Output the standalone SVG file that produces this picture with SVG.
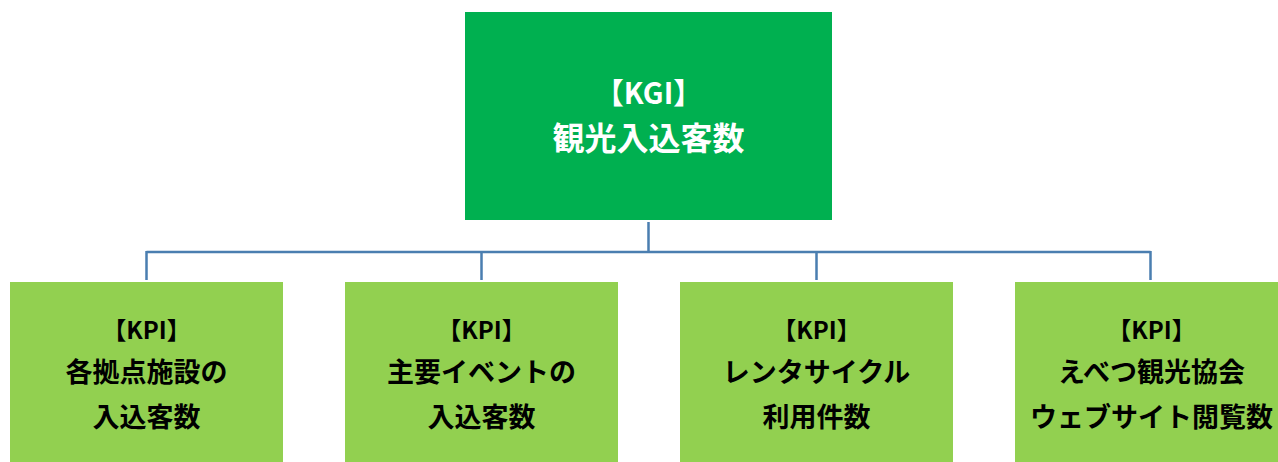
<svg xmlns="http://www.w3.org/2000/svg" width="1278" height="462" viewBox="0 0 1278 462">
<style>
.kgi{fill:#00B050}
.kpi{fill:#92D050}
.conn{stroke:#4A7EB0;stroke-width:2.5;fill:none}
text{font-family:"Noto Sans CJK JP","Noto Sans",sans-serif;font-weight:bold;text-anchor:middle;dominant-baseline:central}
.tw{fill:#FFFFFF}
.tb{fill:#000000}
.h1{font-size:29px}
.h2{font-size:32px}
.s1{font-size:24px}
.s2{font-size:27px}
</style>
<rect width="1278" height="462" fill="#FFFFFF"/>
<g id="connectors">
<path class="conn" d="M648.5 222 V252 M146.5 252 H1150.5 M146.5 251 V280 M481.5 251 V280 M816.5 251 V280 M1150.5 251 V280"/>
</g>
<g id="kgi">
<rect class="kgi" x="465" y="12" width="367" height="208"/>
<text class="tw h1" x="648.5" y="91">【KGI】</text>
<text class="tw h2" x="648.5" y="136">観光入込客数</text>
</g>
<g id="kpi1">
<rect class="kpi" x="10" y="282" width="273" height="182"/>
<text class="tb s1" x="146.5" y="328">【KPI】</text>
<text class="tb s2" x="146.5" y="370">各拠点施設の</text>
<text class="tb s2" x="146.5" y="415">入込客数</text>
</g>
<g id="kpi2">
<rect class="kpi" x="345" y="282" width="273" height="182"/>
<text class="tb s1" x="481.5" y="328">【KPI】</text>
<text class="tb s2" x="481.5" y="370">主要イベントの</text>
<text class="tb s2" x="481.5" y="415">入込客数</text>
</g>
<g id="kpi3">
<rect class="kpi" x="680" y="282" width="273" height="182"/>
<text class="tb s1" x="816.5" y="328">【KPI】</text>
<text class="tb s2" x="816.5" y="370">レンタサイクル</text>
<text class="tb s2" x="816.5" y="415">利用件数</text>
</g>
<g id="kpi4">
<rect class="kpi" x="1015" y="282" width="273" height="182"/>
<text class="tb s1" x="1151.5" y="328">【KPI】</text>
<text class="tb s2" x="1151.5" y="370">えべつ観光協会</text>
<text class="tb s2" x="1151.5" y="415">ウェブサイト閲覧数</text>
</g>
</svg>
